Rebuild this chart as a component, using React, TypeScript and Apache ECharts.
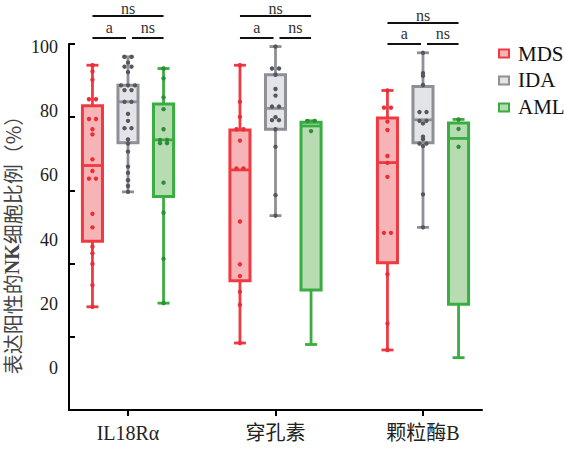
import { useEffect, useRef } from 'react';
import * as echarts from 'echarts';

const categories = ['IL18Rα', '穿孔素', '颗粒酶B'];
const groupNames = ['MDS', 'IDA', 'AML'];
const yTickLabels = [0, 20, 40, 60, 80, 100];

// Box statistics per category: [min, Q1, median, Q3, max]
const mdsBox = [
  [28.2, 46.1, 66.8, 83.1, 94.2],
  [18.3, 35.3, 65.6, 76.5, 94.2],
  [16.4, 40.2, 67.6, 79.8, 87.3],
];
const idaBox = [
  [59.6, 73.0, 84.2, 88.7, 96.5],
  [53.1, 76.7, 82.4, 91.6, 99.3],
  [49.9, 73.0, 79.3, 88.4, 97.6],
];
const amlBox = [
  [29.2, 58.3, 73.8, 83.6, 93.3],
  [17.9, 32.8, 77.6, 78.6, 79.0],
  [14.3, 28.9, 74.2, 78.4, 79.4],
];

// Individual samples per category
const mdsPoints = [
  [94.2, 92.5, 90.2, 84.9, 84.9, 79.5, 79.5, 76.7, 75.3, 68.5, 65.3, 63.2, 63.2, 53.6, 49.9, 44.6, 42.8, 39.9, 34.1, 28.2],
  [94.2, 84.2, 80.1, 76.7, 76.7, 73.6, 66.0, 66.0, 51.5, 39.8, 36.6, 32.3, 28.7, 18.3],
  [87.3, 82.6, 82.6, 78.8, 76.5, 69.4, 67.5, 63.7, 48.4, 48.4, 37.1, 23.6, 16.4],
];
const idaPoints = [
  [96.5, 96.5, 94.9, 93.8, 93.8, 92.3, 88.7, 88.7, 88.7, 87.4, 87.4, 84.2, 84.2, 80.9, 79.0, 77.0, 77.0, 73.9, 72.8, 70.6, 66.5, 64.8, 62.8, 61.2, 59.6],
  [99.3, 93.3, 93.3, 91.6, 87.7, 85.9, 82.9, 82.9, 80.0, 79.2, 79.2, 76.7, 71.9, 58.7, 53.1],
  [97.6, 92.0, 91.3, 88.8, 81.4, 81.4, 79.0, 79.0, 78.3, 74.7, 74.0, 72.8, 72.8, 72.1, 58.9, 49.9],
];
const amlPoints = [
  [93.3, 90.6, 85.4, 82.2, 76.7, 73.8, 73.8, 72.9, 72.9, 62.1, 53.9, 41.3, 29.2],
  [79.0, 79.0, 76.2],
  [79.4, 76.8, 71.9],
];

// Significance labels per category
const sigMdsAml = ['ns', 'ns', 'ns'];
const sigMdsIda = ['a', 'a', 'a'];
const sigIdaAml = ['ns', 'ns', 'ns'];

const boxes = [mdsBox, idaBox, amlBox];
const points = [mdsPoints, idaPoints, amlPoints];

const COLORS = [
  { stroke: '#ef3a42', fill: '#f7b4b7', dot: '#ea2d36' },
  { stroke: '#8f9096', fill: '#e3e4e7', dot: '#54575d' },
  { stroke: '#3aad40', fill: '#b7dcb2', dot: '#2c8c39' },
];

const OFFSETS = [-0.241, 0, 0.241];
const BOX_W = 0.136;
const CAP_W = 12;
const DOT_R = 2.2;
const SWARM_STEP = 7;
const BRACKET_TOP = [16, 16, 23];
const BRACKET_LOW = [38, 38, 44];

const SERIF = "'Liberation Serif', 'Noto Sans CJK SC', serif";
const CJK = "'Noto Sans CJK SC', sans-serif";

// Spread samples that share a value side by side.
function swarm(ys: number[], step: number): number[] {
  const offs = new Array(ys.length).fill(0);
  const order = ys.map((_, k) => k).sort((a, b) => ys[a] - ys[b]);
  let k = 0;
  while (k < order.length) {
    let j = k;
    while (j + 1 < order.length && Math.abs(ys[order[j + 1]] - ys[order[k]]) < 1) j++;
    const n = j - k + 1;
    for (let m = 0; m < n; m++) offs[order[k + m]] = (m - (n - 1) / 2) * step;
    k = j + 1;
  }
  return offs;
}

function renderBox(g: number) {
  return (params: any, api: any) => {
    const i = api.value(0);
    const [mn, q1, md, q3, mx] = boxes[g][i];
    const cx = api.coord([i + OFFSETS[g], 0])[0];
    const y = (v: number) => api.coord([i, v])[1];
    const half = api.size([BOX_W, 0])[0] / 2;
    const c = COLORS[g];
    const ls = { stroke: c.stroke, lineWidth: 2.8 };
    const children: any[] = [
      { type: 'line', shape: { x1: cx, y1: y(mx), x2: cx, y2: y(q3) }, style: ls },
      { type: 'line', shape: { x1: cx, y1: y(q1), x2: cx, y2: y(mn) }, style: ls },
      { type: 'line', shape: { x1: cx - CAP_W / 2, y1: y(mx), x2: cx + CAP_W / 2, y2: y(mx) }, style: ls },
      { type: 'line', shape: { x1: cx - CAP_W / 2, y1: y(mn), x2: cx + CAP_W / 2, y2: y(mn) }, style: ls },
      {
        type: 'rect',
        shape: { x: cx - half, y: y(q3), width: half * 2, height: y(q1) - y(q3) },
        style: { fill: c.fill, stroke: c.stroke, lineWidth: 3 },
      },
      { type: 'line', shape: { x1: cx - half, y1: y(md), x2: cx + half, y2: y(md) }, style: ls },
    ];
    const vals = points[g][i];
    const ys = vals.map((v: number) => y(v));
    const offs = swarm(ys, SWARM_STEP);
    vals.forEach((_: number, k: number) => {
      children.push({
        type: 'circle',
        shape: { cx: cx + offs[k], cy: ys[k], r: DOT_R },
        style: { fill: c.dot },
      });
    });
    return { type: 'group', children };
  };
}

function renderBrackets(params: any, api: any) {
  const i = api.value(0);
  const xs = OFFSETS.map((o) => api.coord([i + o, 0])[0]);
  const top = BRACKET_TOP[i];
  const low = BRACKET_LOW[i];
  const ls = { stroke: '#111', lineWidth: 2 };
  const ts = (text: string, x: number, yy: number) => ({
    type: 'text',
    style: {
      text,
      x,
      y: yy,
      align: 'center',
      verticalAlign: 'middle',
      fontFamily: SERIF,
      fontSize: 16,
      lineHeight: 12,
      fill: '#333',
    },
  });
  return {
    type: 'group',
    children: [
      { type: 'line', shape: { x1: xs[0], y1: top, x2: xs[2], y2: top }, style: ls },
      { type: 'line', shape: { x1: xs[0], y1: low, x2: xs[1] - 2, y2: low }, style: ls },
      { type: 'line', shape: { x1: xs[1] + 4, y1: low, x2: xs[2], y2: low }, style: ls },
      ts(sigMdsAml[i], (xs[0] + xs[2]) / 2, top - 8),
      ts(sigMdsIda[i], (xs[0] + xs[1] - 2) / 2, low - 10.5),
      ts(sigIdaAml[i], (xs[1] + 4 + xs[2]) / 2, low - 10.5),
    ],
  };
}

export default function App() {
  const ref = useRef<HTMLDivElement>(null);

  useEffect(() => {
    if (!ref.current) return;
    const chart = echarts.init(ref.current, undefined, { renderer: 'svg' });
    // label axis spans a slightly wider range so its labels sit between the tick marks
    const LABEL_MIN = -13.08;
    const LABEL_MAX = 100.94;

    const boxSeries = groupNames.map((name, g) => ({
      name,
      type: 'custom',
      xAxisIndex: 0,
      yAxisIndex: 0,
      renderItem: renderBox(g),
      itemStyle: { color: COLORS[g].fill, borderColor: COLORS[g].stroke, borderWidth: 2 },
      encode: { x: 0, y: [1, 2, 3, 4, 5] },
      data: categories.map((_, i) => [i, ...boxes[g][i]]),
      silent: true,
      z: 2,
    }));

    chart.setOption({
      animation: false,
      backgroundColor: '#ffffff',
      grid: { left: 69, right: 82, top: 44, bottom: 40 },
      legend: {
        orient: 'vertical',
        left: 493,
        top: 38,
        padding: 5,
        itemWidth: 10,
        itemHeight: 8,
        itemGap: 6,
        icon: 'rect',
        selectedMode: false,
        textStyle: { fontFamily: SERIF, fontSize: 21, color: '#111', padding: [0, 0, 0, 4] },
        data: groupNames.map((n, g) => ({
          name: n,
          itemStyle: { color: COLORS[g].fill, borderColor: COLORS[g].stroke, borderWidth: 2 },
        })),
      },
      xAxis: {
        type: 'value',
        min: -0.4,
        max: 2.4,
        axisLine: { show: true, onZero: false, lineStyle: { color: '#000', width: 2 } },
        axisTick: { show: true, customValues: [0, 1, 2], length: 6, lineStyle: { color: '#000', width: 2 } },
        axisLabel: {
          customValues: [0, 1, 2],
          formatter: (v: number) => categories[Math.round(v)],
          margin: 13,
          fontSize: 20,
          fontFamily: SERIF,
          color: '#222',
        },
        splitLine: { show: false },
      },
      yAxis: [
        {
          type: 'value',
          min: 0,
          max: 100,
          interval: 20,
          axisLine: { show: true, onZero: false, lineStyle: { color: '#000', width: 2 } },
          axisTick: { show: true, inside: true, length: 6, lineStyle: { color: '#000', width: 2 } },
          axisLabel: { show: false },
          splitLine: { show: false },
        },
        {
          type: 'value',
          min: LABEL_MIN,
          max: LABEL_MAX,
          position: 'left',
          offset: 0,
          axisLine: { show: false, onZero: false },
          axisTick: { show: false },
          splitLine: { show: false },
          axisLabel: {
            customValues: yTickLabels,
            margin: 11,
            fontSize: 18,
            fontFamily: SERIF,
            color: '#1a1a1a',
          },
        },
      ],
      graphic: [
        {
          type: 'text',
          x: 12,
          y: 240,
          rotation: Math.PI / 2,
          style: {
            text: '表达阳性的{b|NK}细胞比例（%）',
            align: 'center',
            verticalAlign: 'middle',
            fontFamily: CJK,
            fontSize: 20,
            lineHeight: 20,
            fill: '#444',
            rich: {
              b: { fontFamily: SERIF, fontWeight: 'bold', fontSize: 20, lineHeight: 20, fill: '#444' },
            },
          },
        },
      ],
      series: [
        ...boxSeries,
        {
          type: 'custom',
          xAxisIndex: 0,
          yAxisIndex: 0,
          renderItem: renderBrackets,
          encode: { x: 0, y: 1 },
          data: categories.map((_, i) => [i, 50]),
          silent: true,
          clip: false,
          z: 3,
        },
      ],
    });

    return () => chart.dispose();
  }, []);

  return <div ref={ref} style={{ position: 'fixed', left: 0, top: 0, width: 564, height: 450 }} />;
}
